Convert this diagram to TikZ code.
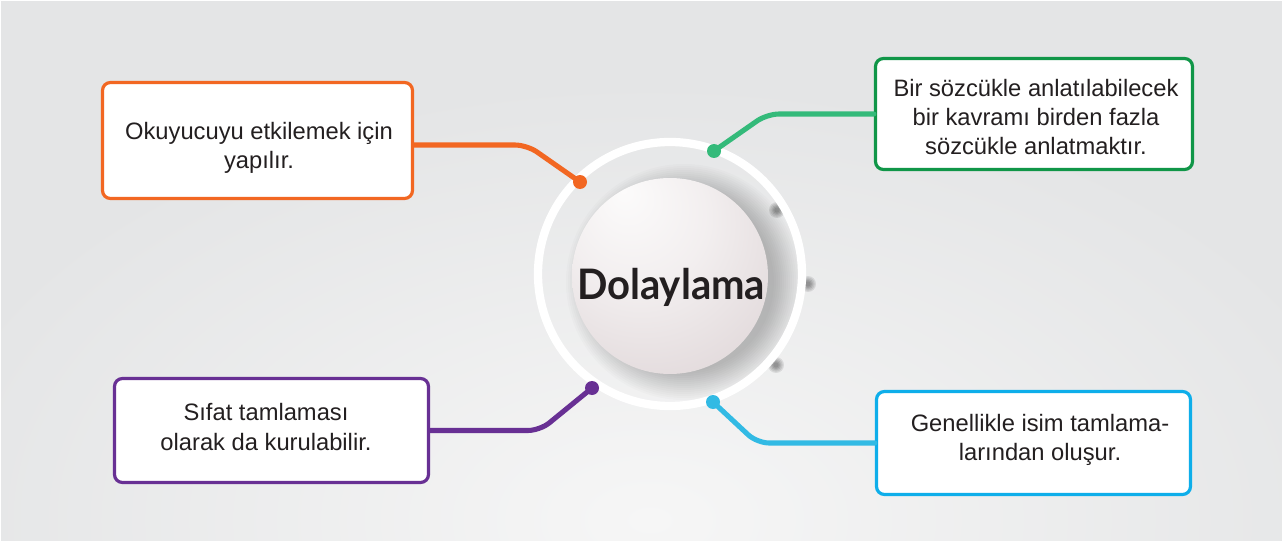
\documentclass[tikz,border=0pt]{standalone}
\usepackage{fontspec}
\usepackage{graphicx}
\setmainfont{Liberation Sans}
\newfontfamily\titlefont{Lato}
\usetikzlibrary{calc}
\definecolor{corange}{RGB}{242,103,34}
\definecolor{cgreenb}{RGB}{16,150,72}
\definecolor{cgreenl}{RGB}{52,186,122}
\definecolor{cpurple}{RGB}{104,48,148}
\definecolor{cblueb}{RGB}{14,174,234}
\definecolor{cbluel}{RGB}{50,186,228}
\definecolor{bgc}{RGB}{228,229,230}
\definecolor{bglight}{RGB}{246,246,246}
\definecolor{txt}{RGB}{35,31,32}
\definecolor{spherein}{RGB}{252,251,251}
\definecolor{sphereout}{RGB}{220,210,212}
\pgfdeclareradialshading{spheresh}{\pgfpoint{-12bp}{22bp}}{color(0bp)=(spherein); color(18bp)=(spherein!70!sphereout); color(45bp)=(sphereout); color(60bp)=(sphereout!94!black)}
\begin{document}
\begin{tikzpicture}[x=0.75pt,y=-0.75pt,
  box/.style={draw=#1, fill=white, line width=2.4pt, rounded corners=6pt, inner sep=0pt},
  boxtext/.style={align=center, font=\fontsize{17.8}{21.8}\selectfont, text=txt, inner sep=0pt},
  conn/.style={draw=#1, line width=3.8pt, rounded corners=9pt, line cap=round},
  dotn/.style={circle, fill=#1, inner sep=0pt, minimum size=10.5pt}]
\useasboundingbox (0,0) rectangle (1283,542);
% background
\fill[white] (0,0) rectangle (1283,542);
\fill[bgc] (1.5,1.5) rectangle (1281.5,540.5);
\begin{scope}
\clip (1.5,1.5) rectangle (1281.5,540.5);
\shade[inner color=bglight, outer color=bgc] (650,520) ellipse (560pt and 330pt);
\end{scope}
% small dark smudges
\foreach \p in {(777,210),(808,284),(776,365)} {
  \foreach \rr in {6,5,4,3,2} {
    \fill[black, opacity=0.09] \p circle (\rr pt);
  }
}
% shadow of the sphere
\foreach \r in {90,92,...,118} {
  \fill[black, opacity=0.014] (684,282) circle ({\r*0.75pt});
}
% ring
\draw[white, line width=6.2pt] (670,274) circle (99pt);
% sphere
\node[circle, minimum size=147pt, inner sep=0pt, shading=spheresh] (c) at (670,276) {};
\node[text=txt, inner sep=0pt] (title) at (671,287) {\resizebox{141pt}{!}{\scalebox{1}[1.05]{\titlefont\bfseries Dolaylama}}};
% boxes
\node[box=corange, minimum width=232.5pt, minimum height=87pt] (ob) at (257.5,140.5) {};
\node[boxtext] (ot) at (259,147.5) {Okuyucuyu etkilemek için\\yapılır.};
\node[box=cgreenb, minimum width=237.75pt, minimum height=83.25pt] (gb) at (1034,114) {};
\node[boxtext] (gt) at (1036,117) {Bir sözcükle anlatılabilecek\\bir kavramı birden fazla\\sözcükle anlatmaktır.};
\node[box=cpurple, minimum width=235.5pt, minimum height=78pt] (pb) at (271.5,430.5) {};
\node[boxtext] (pt) at (266,427) {Sıfat tamlaması\\olarak da kurulabilir.};
\node[box=cblueb, minimum width=235.5pt, minimum height=77.25pt] (bb) at (1033.5,443) {};
\node[boxtext] (bt) at (1040,440) {Genellikle isim tamlama-\\larından oluşur.};
% dots
\node[dotn=corange] (od) at (580,182) {};
\node[dotn=cgreenl] (gd) at (714,151) {};
\node[dotn=cpurple] (pd) at (592,388) {};
\node[dotn=cbluel] (bd) at (713,402) {};
% bend points
\coordinate (ok) at (527,145);
\coordinate (gk) at (767,114);
\coordinate (pk) at (540,430.5);
\coordinate (bk) at (757,443);
% connectors
\draw[conn=corange] (ok -| ob.east) -- (ok) -- (od.center);
\draw[conn=cgreenl] (gk -| gb.west) -- (gk) -- (gd.center);
\draw[conn=cpurple] (pk -| pb.east) -- (pk) -- (pd.center);
\draw[conn=cbluel] (bk -| bb.west) -- (bk) -- (bd.center);
\end{tikzpicture}
\end{document}
